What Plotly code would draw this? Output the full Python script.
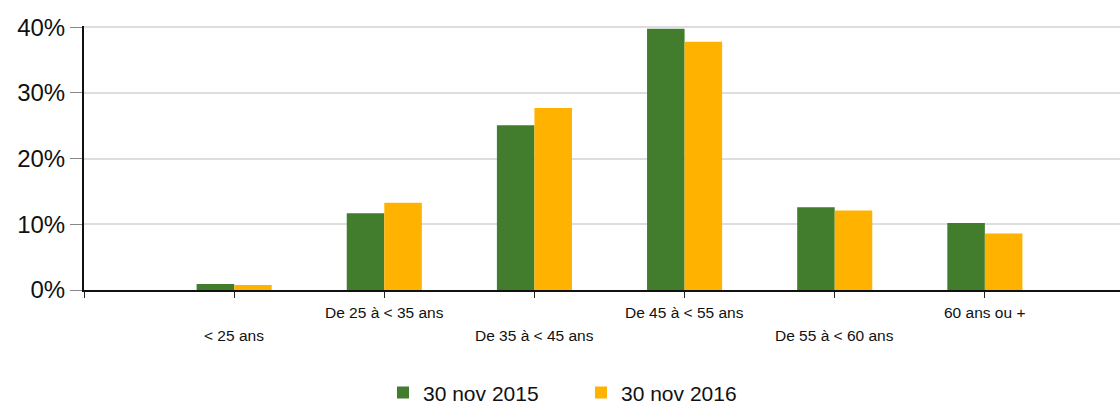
import plotly.graph_objects as go

categories = ["< 25 ans", "De 25 à < 35 ans", "De 35 à < 45 ans",
              "De 45 à < 55 ans", "De 55 à < 60 ans", "60 ans ou +"]
series_2015 = [0.9, 11.7, 25.1, 39.8, 12.6, 10.2]
series_2016 = [0.75, 13.3, 27.7, 37.8, 12.1, 8.6]
y_ticks = [0, 10, 20, 30, 40]
y_tick_labels = ["0%", "10%", "20%", "30%", "40%"]

positions = list(range(1, len(categories) + 1))

fig = go.Figure()
fig.add_bar(x=positions, y=series_2015, name="30 nov 2015",
            marker=dict(color="#417D2D", line=dict(width=0)))
fig.add_bar(x=positions, y=series_2016, name="30 nov 2016",
            marker=dict(color="#FFB300", line=dict(width=0)))

# staggered category labels
for i, (p, c) in enumerate(zip(positions, categories)):
    fig.add_annotation(x=p, xref="x", y=(-0.1742 if i % 2 == 0 else -0.0871),
                       yref="paper", text=c.replace("<", "&lt;"), showarrow=False,
                       xanchor="center", yanchor="middle",
                       font=dict(size=15.5, color="#111111"))

fig.update_layout(
    width=1120, height=404,
    margin=dict(l=84, r=0, t=26, b=114, autoexpand=False),
    paper_bgcolor="white", plot_bgcolor="white",
    barmode="group", bargap=0.5, bargroupgap=0,
    font=dict(family="Liberation Sans, Arial, sans-serif", color="#111111"),
    legend=dict(orientation="h", x=0.2886, xanchor="left",
                y=-0.39, yanchor="middle", entrywidth=153, entrywidthmode="pixels",
                font=dict(size=21), traceorder="normal"),
    xaxis=dict(range=[0, 6.9], tickmode="array", tickvals=[0] + positions,
               ticktext=[""] * (len(positions) + 1), ticks="outside", ticklen=6,
               tickcolor="#222",
               showgrid=False, showline=True, linecolor="#111", linewidth=2,
               zeroline=False, automargin=False),
    yaxis=dict(range=[0, 40.2], tickmode="array", tickvals=y_ticks,
               ticktext=y_tick_labels, ticks="outside", ticklen=12,
               tickcolor="#888", showgrid=True, gridcolor="#DDDDDD", gridwidth=2,
               showline=True, linecolor="#111", linewidth=2, zeroline=False,
               tickfont=dict(size=24), automargin=False),
)

post = ("document.body.style.margin='0';document.body.style.overflow='hidden';"
        "var gd=document.getElementById('{plot_id}');"
        "Plotly.relayout(gd,{width:1120,height:404});")
fig.write_html("out.html", post_script=post,
               config={"responsive": False, "displayModeBar": False})
